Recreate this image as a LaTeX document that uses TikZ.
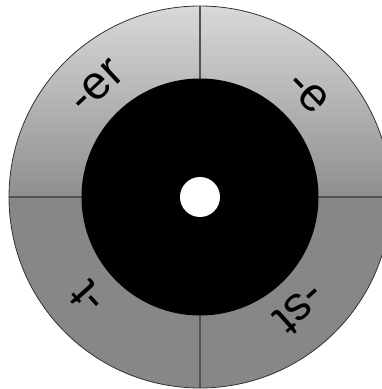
\documentclass[tikz,border=0pt]{standalone}
\usepackage{fontspec}
\setmainfont{Liberation Sans}
\usetikzlibrary{positioning}
\tikzset{
  ringlabel/.style={font=\fontsize{47}{47}\selectfont,inner sep=0pt,anchor=center},
  divider/.style={draw=black!68,line width=1.2pt},
}

\begin{document}
\begin{tikzpicture}[x=1pt,y=1pt]
  \useasboundingbox (-200,-192) rectangle (182,197);
  \coordinate (c) at (0,0);
  % ring halves
  \shade[top color=black!15,bottom color=black!44]
    (191,0) arc[start angle=0,end angle=180,radius=191] -- cycle;
  \fill[black!47]
    (-191,0) arc[start angle=180,end angle=360,radius=191] -- cycle;
  \coordinate (n) at (90:191);
  \coordinate (s) at (270:191);
  \coordinate (w) at (180:191);
  \coordinate (o) at (0:191);
  \draw[divider] (n) -- (s);
  \draw[divider] (w) -- (o);
  \draw[black!80,line width=0.8pt] (c) circle[radius=191];
  % hub
  \fill[black] (c) circle[radius=118.5];
  \fill[white] (c) circle[radius=20];
  \node[ringlabel,rotate=43]  (er) at (133:151) {-er};
  \node[ringlabel,rotate=-46] (e)  at (44:150)  {-e};
  \node[ringlabel,rotate=132] (t)  at (222:151) {-t};
  \node[ringlabel,rotate=222] (st) at (312:150) {-st};
\end{tikzpicture}
\end{document}
